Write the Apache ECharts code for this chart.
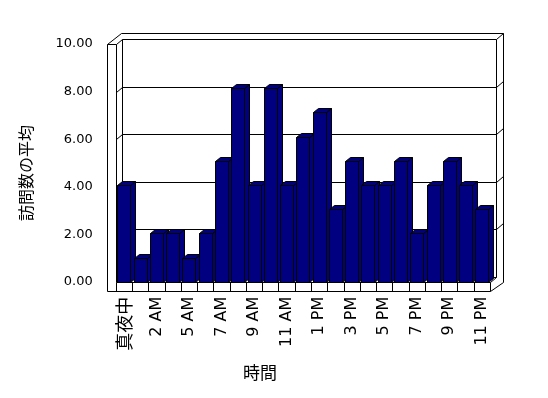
<!DOCTYPE html>
<html><head><meta charset="utf-8">
<script src="https://cdn.jsdelivr.net/npm/echarts@6/dist/echarts.min.js"></script>
<style>html,body{margin:0;padding:0;background:#fff}#c{width:548px;height:398px}</style>
</head><body><div id="c"></div>
<script>
const categories = ['真夜中','1 AM','2 AM','3 AM','5 AM','6 AM','7 AM','8 AM','9 AM','10 AM','11 AM','12 PM','1 PM','2 PM','3 PM','4 PM','5 PM','6 PM','7 PM','8 PM','9 PM','10 PM','11 PM'];
const visits = [4,1,2,2,1,2,5,8,4,8,4,6,7,3,5,4,4,5,2,4,5,4,3];
const yTicks = [0,2,4,6,8,10];
const xName = '時間';
const yName = '訪問数の平均';

const DX = 5, DY = 4;
const NAVY = '#000080';

function renderItem(params, api) {
  const i = api.value(0), v = api.value(1);
  const base = api.coord([i, 0]);
  const top = api.coord([i, v]);
  const cw = api.size([1, 0])[0];
  const w = Math.round(cw * 0.82);
  const x0 = Math.round(base[0] - w / 2) + 0.5;
  const yb = Math.round(base[1]) + 0.5;
  const yt = Math.round(top[1]) + 0.5;
  const st = {fill: NAVY, stroke: '#000', lineWidth: 1};
  return {type: 'group', children: [
    {type: 'polygon', shape: {points: [[x0 + w, yt], [x0 + w + DX, yt - DY], [x0 + w + DX, yb - DY], [x0 + w, yb]]}, style: st},
    {type: 'polygon', shape: {points: [[x0, yt], [x0 + DX, yt - DY], [x0 + w + DX, yt - DY], [x0 + w, yt]]}, style: st},
    {type: 'rect', shape: {x: x0, y: yt, width: w, height: yb - yt}, style: st}
  ]};
}

const chart = echarts.init(document.getElementById('c'), null, {renderer: 'canvas'});
chart.setOption({
  animation: false,
  backgroundColor: '#fff',
  grid: [
    {left: 115.7, top: 39.7, width: 374.3, height: 242},
    {left: 106.7, top: 44, width: 383, height: 238}
  ],
  xAxis: [
    {type: 'category', gridIndex: 0, data: categories,
     axisLine: {show: false}, axisTick: {show: false}, splitLine: {show: false},
     axisLabel: {interval: 1, rotate: 90, margin: 15, color: '#000', fontFamily: 'DejaVu Sans', fontSize: 16,
       formatter: v => /[^\x00-\x7f]/.test(v) ? '{c|' + v + '}' : v,
       rich: {c: {fontFamily: 'Noto Sans CJK JP', fontSize: 18, color: '#000'}}}},
    {type: 'category', gridIndex: 1, data: categories, show: false}
  ],
  yAxis: [
    {type: 'value', gridIndex: 0, min: yTicks[0], max: yTicks[yTicks.length - 1], interval: 2, show: false},
    {type: 'value', gridIndex: 1, min: yTicks[0], max: yTicks[yTicks.length - 1], interval: 2,
     axisLine: {show: false}, axisTick: {show: false}, splitLine: {show: false},
     axisLabel: {margin: 14, color: '#000', fontFamily: 'DejaVu Sans', fontSize: 13, formatter: v => v.toFixed(2)}}
  ],
  series: [{type: 'custom', xAxisIndex: 0, yAxisIndex: 0, z: 5,
    data: visits.map((v, i) => [i, v]), renderItem: renderItem}]
});

// frame (walls, floor) derived from axes
const px = v => Math.round(v) + 0.5;
const yF = v => chart.convertToPixel({yAxisIndex: 1}, v);
const cx0 = chart.convertToPixel({xAxisIndex: 0}, 0);
const cx1 = chart.convertToPixel({xAxisIndex: 0}, 1);
const cell = cx1 - cx0;
const catLeft = cx0 - cell / 2;
const catRight = catLeft + cell * categories.length;
const FL = px(106.7), IL = px(catLeft), FT = px(yF(yTicks[yTicks.length - 1]));
const FF = px(yF(0)), FB = FF + 9;
const BDX = 6, BDY = 5;
const BL = IL + BDX, BT = FT - BDY, BB = FF - BDY;
const FR = px(catRight), BR = FR + BDX;
const OR = BR + 7, OT = BT - 6;
const ln = (pts, z) => ({type: 'polyline', z: z || 1, silent: true, shape: {points: pts}, style: {stroke: '#000', lineWidth: 1, fill: null}});
const els = [];
// left wall
els.push(ln([[FL, FB], [FL, FT], [IL, FT], [IL, FF]]));
els.push(ln([[FL, FT], [BL - 1, OT]]));
els.push(ln([[IL, FT], [BL, BT]]));
// back wall
els.push(ln([[BL - 1, OT], [OR, OT], [OR, FF]]));
els.push(ln([[BL, BB], [BL, BT], [BR, BT], [BR, BB]]));
els.push(ln([[BR, BT], [OR, OT]]));
// grid lines
yTicks.slice(1, -1).forEach(v => {
  const yf = px(yF(v)), yb = yf - BDY;
  els.push(ln([[IL, yf], [BL, yb], [BR, yb], [OR, yb - 6]]));
});
// floor
els.push(ln([[IL, FF], [FR, FF], [FR, FB], [FL, FB]], 10));
els.push(ln([[FR, FB], [OR, FF]], 10));
els.push(ln([[FR, FF], [BR, BB]], 10));
els.push(ln([[IL, BB + 0], [BR, BB]], 1));
for (let k = 0; k < categories.length; k++) {
  const x = px(catLeft + cell * k);
  els.push(ln([[x, FF], [x, FB]], 10));
}
// axis names
els.push({type: 'text', z: 10, x: 260, y: 373, style: {text: xName, font: '17px "Noto Sans CJK JP"', fill: '#000', align: 'center', verticalAlign: 'middle'}});
els.push({type: 'text', z: 10, x: 26, y: 173, rotation: Math.PI / 2, style: {text: yName, font: '16px "Noto Sans CJK JP"', fill: '#000', align: 'center', verticalAlign: 'middle'}});
chart.setOption({graphic: {elements: els}});
</script></body></html>
